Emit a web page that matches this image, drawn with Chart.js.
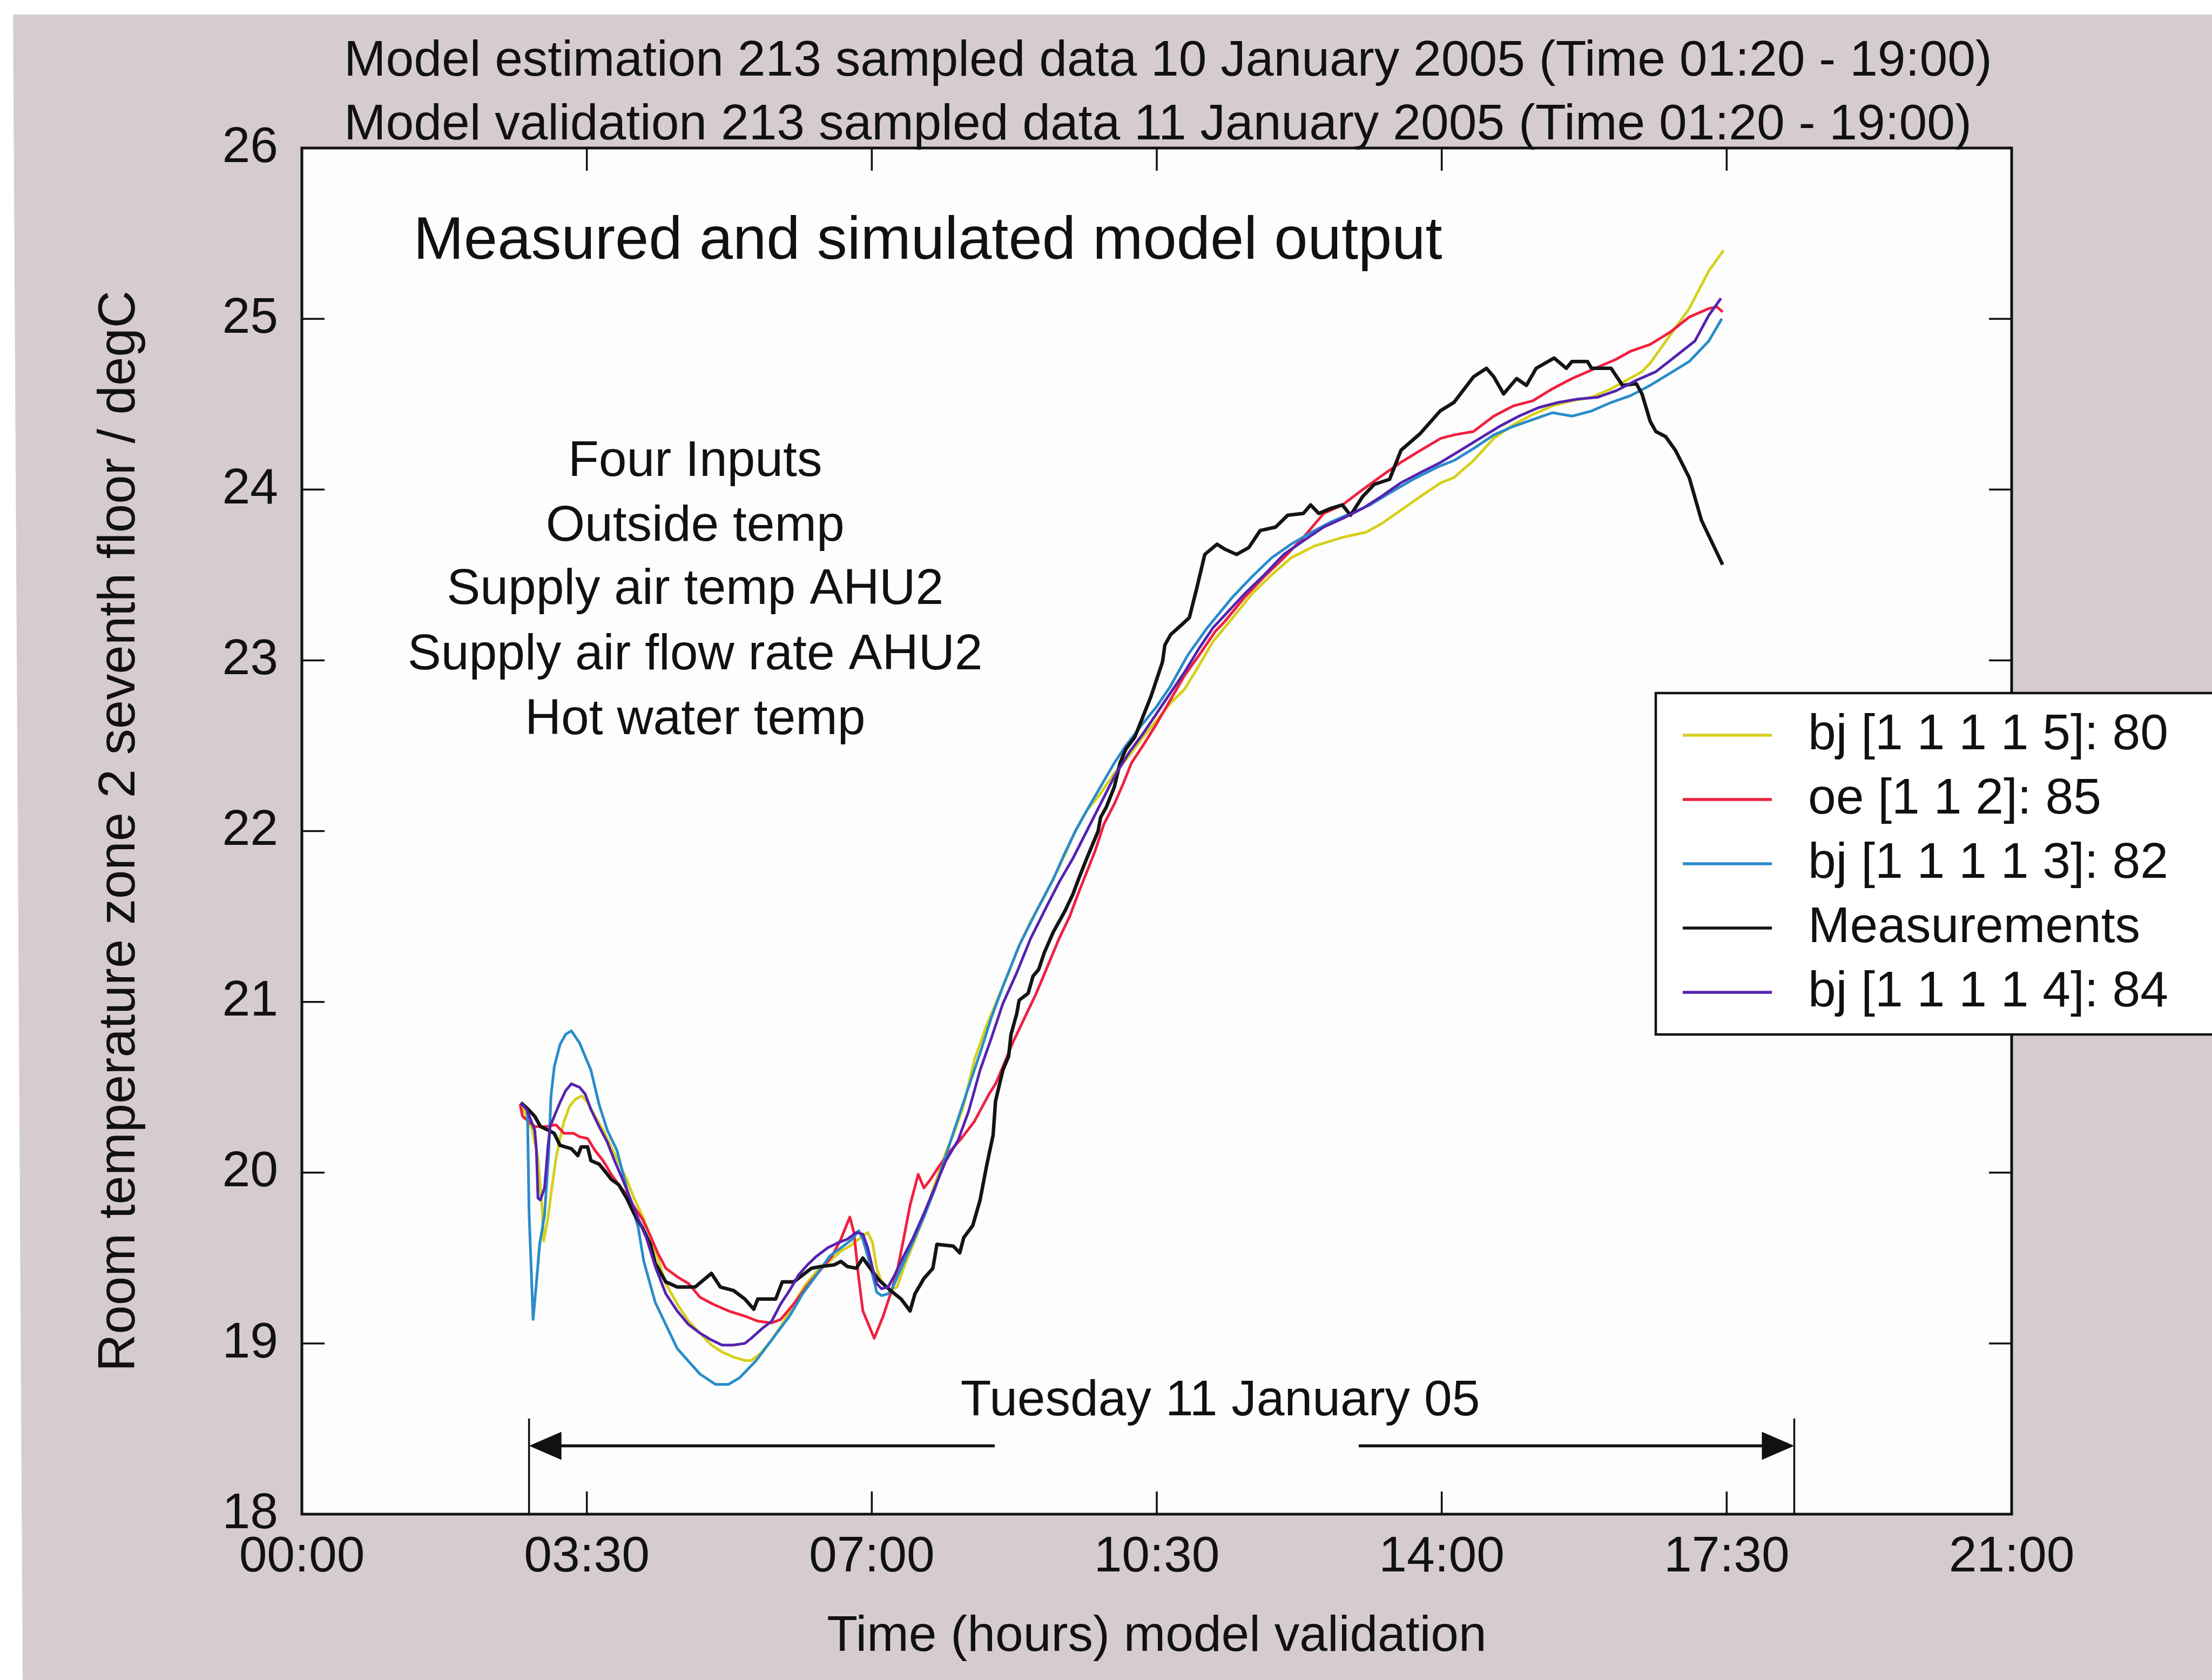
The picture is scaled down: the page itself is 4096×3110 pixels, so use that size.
<!DOCTYPE html>
<html>
<head>
<meta charset="utf-8">
<title>Measured and simulated model output</title>
<script src="https://cdn.jsdelivr.net/npm/chart.js@4.4.1/dist/chart.umd.min.js"></script>
<style>
    html, body { margin: 0; padding: 0; background: #d6cccd; }
    canvas { display: block; }
</style>
</head>
<body>
<canvas id="model-chart" width="4096" height="3110"></canvas>
<script>
// Room temperature zone 2, seventh floor - model validation, 11 January 2005

const FONT = '"Liberation Sans", Arial, Helvetica, sans-serif';
const TEXT_SIZE = 93;

// Axis ticks (hours / degC)
const timeTicks = [0, 3.5, 7, 10.5, 14, 17.5, 21];
const tempTicks = [18, 19, 20, 21, 22, 23, 24, 25, 26];

// Legend labels, in plotting order
const seriesLabels = ['bj [1 1 1 1 5]: 80', 'oe [1 1 2]: 85', 'bj [1 1 1 1 3]: 82', 'Measurements', 'bj [1 1 1 1 4]: 84'];

// bj [1 1 1 1 5]
const bj5Hours = [2.69, 2.76, 2.83, 2.90, 2.95, 2.97, 3.02, 3.07, 3.12, 3.17, 3.22, 3.29, 3.36, 3.44, 3.51, 3.60, 3.70, 3.80, 3.89, 3.99,
    4.08, 4.18, 4.28, 4.37, 4.47, 4.61, 4.75, 4.89, 5.03, 5.16, 5.30, 5.44, 5.52, 5.63, 5.77, 5.91, 6.04, 6.18, 6.32, 6.48,
    6.62, 6.73, 6.81, 6.95, 7.01, 7.06, 7.12, 7.23, 7.31, 7.39, 7.50, 7.64, 7.78, 7.91, 8.00, 8.12, 8.26, 8.40, 8.54, 8.68,
    8.81, 8.95, 9.09, 9.23, 9.37, 9.50, 9.64, 9.81, 9.98, 10.16, 10.33, 10.50, 10.67, 10.84, 11.02, 11.19, 11.40, 11.67, 11.91, 12.15,
    12.44, 12.78, 13.07, 13.26, 13.50, 13.74, 13.99, 14.15, 14.39, 14.64, 14.88, 15.12, 15.36, 15.60, 15.84, 16.08, 16.27, 16.46, 16.56, 16.68,
    16.80, 16.92, 17.04, 17.16, 17.28, 17.46];
const bj5Temp = [20.40, 20.33, 20.25, 20.08, 19.79, 19.60, 19.73, 19.91, 20.08, 20.20, 20.30, 20.39, 20.43, 20.45, 20.41, 20.33, 20.25, 20.15, 20.06, 19.96,
    19.85, 19.75, 19.63, 19.50, 19.35, 19.23, 19.13, 19.06, 18.99, 18.95, 18.92, 18.90, 18.90, 18.94, 19.02, 19.12, 19.23, 19.34, 19.42, 19.48,
    19.54, 19.57, 19.60, 19.65, 19.59, 19.44, 19.36, 19.31, 19.33, 19.44, 19.57, 19.74, 19.94, 20.12, 20.22, 20.38, 20.66, 20.85, 21.01, 21.17,
    21.33, 21.47, 21.59, 21.72, 21.86, 22.00, 22.12, 22.22, 22.34, 22.44, 22.55, 22.65, 22.75, 22.83, 22.97, 23.11, 23.23, 23.39, 23.50, 23.60,
    23.67, 23.72, 23.75, 23.80, 23.88, 23.96, 24.04, 24.07, 24.17, 24.30, 24.38, 24.44, 24.49, 24.52, 24.54, 24.59, 24.64, 24.69, 24.74, 24.82,
    24.90, 24.98, 25.06, 25.17, 25.28, 25.40];

// oe [1 1 2]
const oeHours = [2.68, 2.71, 2.76, 2.86, 3.00, 3.12, 3.22, 3.34, 3.41, 3.51, 3.60, 3.70, 3.80, 3.89, 3.99, 4.08, 4.18, 4.28, 4.37, 4.47,
    4.61, 4.75, 4.89, 5.05, 5.24, 5.44, 5.60, 5.77, 5.88, 6.04, 6.21, 6.37, 6.51, 6.62, 6.73, 6.78, 6.84, 6.89, 7.03, 7.14,
    7.23, 7.31, 7.39, 7.47, 7.57, 7.64, 7.72, 7.83, 7.97, 8.10, 8.26, 8.44, 8.52, 8.61, 8.74, 8.88, 9.02, 9.16, 9.30, 9.43,
    9.54, 9.64, 9.74, 9.85, 9.98, 10.09, 10.19, 10.33, 10.50, 10.67, 10.84, 11.02, 11.22, 11.34, 11.58, 11.82, 12.06, 12.30, 12.55, 12.78,
    13.03, 13.26, 13.50, 13.74, 13.99, 14.15, 14.39, 14.64, 14.88, 15.12, 15.36, 15.60, 15.84, 15.98, 16.13, 16.32, 16.56, 16.80, 17.04, 17.28,
    17.38, 17.45];
const oeTemp = [20.40, 20.33, 20.31, 20.27, 20.27, 20.28, 20.23, 20.23, 20.21, 20.20, 20.13, 20.07, 19.99, 19.93, 19.87, 19.80, 19.73, 19.63, 19.53, 19.44,
    19.39, 19.35, 19.27, 19.23, 19.19, 19.16, 19.13, 19.12, 19.14, 19.23, 19.34, 19.43, 19.51, 19.61, 19.74, 19.65, 19.38, 19.19, 19.03, 19.16,
    19.29, 19.42, 19.61, 19.81, 19.99, 19.91, 19.96, 20.04, 20.13, 20.20, 20.30, 20.46, 20.52, 20.62, 20.77, 20.91, 21.05, 21.21, 21.37, 21.50,
    21.64, 21.76, 21.88, 22.04, 22.16, 22.28, 22.40, 22.50, 22.63, 22.77, 22.91, 23.03, 23.17, 23.23, 23.37, 23.49, 23.60, 23.72, 23.86, 23.91,
    24.00, 24.08, 24.16, 24.23, 24.30, 24.32, 24.34, 24.43, 24.49, 24.52, 24.59, 24.65, 24.70, 24.73, 24.76, 24.81, 24.85, 24.92, 25.01, 25.06,
    25.07, 25.04];

// bj [1 1 1 1 3]
const bj3Hours = [2.69, 2.77, 2.79, 2.84, 2.88, 2.92, 2.98, 3.03, 3.06, 3.10, 3.17, 3.24, 3.31, 3.41, 3.55, 3.65, 3.75, 3.87, 3.99, 4.13,
    4.20, 4.34, 4.61, 4.89, 5.08, 5.24, 5.38, 5.58, 5.77, 5.99, 6.15, 6.32, 6.48, 6.65, 6.76, 6.84, 6.89, 6.95, 7.01, 7.06,
    7.12, 7.20, 7.25, 7.36, 7.50, 7.64, 7.78, 7.91, 8.02, 8.16, 8.33, 8.47, 8.61, 8.81, 9.02, 9.23, 9.36, 9.50, 9.64, 9.81,
    9.98, 10.12, 10.33, 10.50, 10.67, 10.88, 11.12, 11.43, 11.67, 11.91, 12.15, 12.40, 12.64, 12.88, 13.12, 13.36, 13.65, 13.94, 14.15, 14.39,
    14.64, 14.88, 15.12, 15.36, 15.60, 15.84, 16.08, 16.32, 16.56, 16.80, 17.04, 17.28, 17.44];
const bj3Temp = [20.40, 20.38, 19.77, 19.14, 19.35, 19.58, 19.75, 20.10, 20.45, 20.62, 20.75, 20.81, 20.83, 20.76, 20.60, 20.40, 20.25, 20.13, 19.91, 19.68,
    19.48, 19.24, 18.97, 18.82, 18.76, 18.76, 18.80, 18.90, 19.02, 19.16, 19.29, 19.40, 19.51, 19.57, 19.61, 19.66, 19.61, 19.51, 19.40, 19.30,
    19.28, 19.29, 19.32, 19.44, 19.59, 19.74, 19.91, 20.10, 20.26, 20.46, 20.70, 20.91, 21.09, 21.33, 21.53, 21.72, 21.86, 22.00, 22.12, 22.26,
    22.40, 22.50, 22.63, 22.73, 22.85, 23.03, 23.19, 23.37, 23.49, 23.60, 23.68, 23.75, 23.81, 23.86, 23.91, 23.98, 24.06, 24.13, 24.17, 24.24,
    24.32, 24.37, 24.41, 24.45, 24.43, 24.46, 24.51, 24.55, 24.61, 24.68, 24.75, 24.87, 25.00];

// Measured room temperature
const measHours = [2.69, 2.78, 2.86, 2.93, 3.02, 3.10, 3.17, 3.24, 3.31, 3.39, 3.43, 3.51, 3.55, 3.65, 3.72, 3.80, 3.89, 3.99, 4.08, 4.18,
    4.28, 4.34, 4.47, 4.61, 4.83, 5.03, 5.14, 5.30, 5.44, 5.55, 5.60, 5.82, 5.90, 6.04, 6.15, 6.26, 6.37, 6.54, 6.62, 6.70,
    6.81, 6.89, 6.98, 7.09, 7.23, 7.36, 7.47, 7.53, 7.64, 7.75, 7.80, 8.00, 8.08, 8.13, 8.24, 8.33, 8.41, 8.49, 8.52, 8.61,
    8.68, 8.71, 8.78, 8.81, 8.92, 8.98, 9.05, 9.12, 9.23, 9.30, 9.37, 9.47, 9.54, 9.64, 9.71, 9.78, 9.81, 9.88, 9.98, 10.05,
    10.12, 10.23, 10.33, 10.43, 10.50, 10.57, 10.60, 10.67, 10.81, 10.90, 10.99, 11.09, 11.24, 11.34, 11.48, 11.63, 11.77, 11.96, 12.11, 12.30,
    12.39, 12.49, 12.64, 12.78, 12.88, 13.03, 13.17, 13.36, 13.50, 13.74, 13.98, 14.15, 14.39, 14.55, 14.64, 14.76, 14.92, 15.04, 15.16, 15.38,
    15.53, 15.60, 15.79, 15.84, 16.08, 16.22, 16.39, 16.46, 16.56, 16.63, 16.75, 16.87, 17.04, 17.19, 17.28, 17.45];
const measTemp = [20.41, 20.37, 20.33, 20.27, 20.25, 20.23, 20.16, 20.15, 20.14, 20.10, 20.15, 20.15, 20.07, 20.05, 20.01, 19.96, 19.93, 19.85, 19.76, 19.68,
    19.58, 19.47, 19.36, 19.33, 19.33, 19.41, 19.33, 19.31, 19.26, 19.20, 19.26, 19.26, 19.36, 19.36, 19.40, 19.44, 19.45, 19.46, 19.48, 19.45,
    19.44, 19.50, 19.44, 19.37, 19.31, 19.26, 19.19, 19.29, 19.38, 19.44, 19.58, 19.57, 19.53, 19.62, 19.69, 19.84, 20.04, 20.22, 20.42, 20.60,
    20.68, 20.81, 20.93, 21.01, 21.05, 21.15, 21.19, 21.29, 21.41, 21.47, 21.53, 21.63, 21.72, 21.84, 21.92, 22.00, 22.08, 22.14, 22.26, 22.40,
    22.48, 22.55, 22.67, 22.79, 22.89, 22.99, 23.09, 23.15, 23.21, 23.25, 23.42, 23.62, 23.68, 23.65, 23.62, 23.66, 23.76, 23.78, 23.85, 23.86,
    23.91, 23.86, 23.89, 23.91, 23.85, 23.96, 24.03, 24.06, 24.23, 24.33, 24.46, 24.51, 24.66, 24.71, 24.66, 24.56, 24.65, 24.61, 24.71, 24.77,
    24.71, 24.75, 24.75, 24.71, 24.71, 24.61, 24.62, 24.56, 24.40, 24.34, 24.31, 24.23, 24.07, 23.82, 23.73, 23.56];

// bj [1 1 1 1 4]
const bj4Hours = [2.69, 2.76, 2.86, 2.88, 2.90, 2.93, 2.98, 3.00, 3.02, 3.05, 3.10, 3.17, 3.24, 3.31, 3.41, 3.48, 3.55, 3.65, 3.75, 3.84,
    3.94, 4.04, 4.13, 4.23, 4.34, 4.47, 4.61, 4.75, 4.89, 5.03, 5.16, 5.30, 5.44, 5.52, 5.66, 5.77, 5.88, 5.99, 6.10, 6.21,
    6.32, 6.46, 6.59, 6.70, 6.81, 6.89, 6.95, 7.01, 7.06, 7.12, 7.20, 7.28, 7.39, 7.50, 7.64, 7.78, 7.91, 8.06, 8.19, 8.33,
    8.47, 8.61, 8.78, 8.95, 9.16, 9.30, 9.47, 9.64, 9.81, 9.98, 10.16, 10.33, 10.50, 10.67, 10.84, 11.02, 11.19, 11.58, 11.82, 12.06,
    12.30, 12.55, 12.78, 13.03, 13.26, 13.50, 13.74, 13.99, 14.23, 14.47, 14.71, 14.95, 15.19, 15.43, 15.67, 15.91, 16.15, 16.39, 16.63, 16.87,
    17.11, 17.28, 17.43];
const bj4Temp = [20.41, 20.37, 20.25, 20.14, 19.85, 19.84, 19.91, 20.02, 20.14, 20.27, 20.33, 20.41, 20.48, 20.52, 20.50, 20.46, 20.37, 20.27, 20.18, 20.07,
    19.96, 19.84, 19.73, 19.62, 19.45, 19.29, 19.19, 19.11, 19.06, 19.02, 18.99, 18.99, 19.00, 19.03, 19.09, 19.13, 19.23, 19.31, 19.40, 19.46,
    19.51, 19.56, 19.59, 19.61, 19.65, 19.64, 19.56, 19.44, 19.35, 19.32, 19.33, 19.40, 19.51, 19.61, 19.76, 19.92, 20.07, 20.19, 20.36, 20.60,
    20.79, 20.99, 21.17, 21.37, 21.57, 21.70, 21.84, 22.00, 22.16, 22.32, 22.46, 22.57, 22.69, 22.81, 22.93, 23.07, 23.19, 23.39, 23.50, 23.62,
    23.70, 23.78, 23.83, 23.89, 23.96, 24.04, 24.10, 24.16, 24.23, 24.30, 24.37, 24.43, 24.48, 24.51, 24.53, 24.54, 24.58, 24.64, 24.69, 24.78,
    24.87, 25.02, 25.12];

// Build a line dataset from an hours/temperature pair
function series(label, hours, temps, color, width, order) {
    return {
        label: label,
        data: hours.map((h, i) => ({ x: h, y: temps[i] })),
        borderColor: color,
        borderWidth: width,
        pointRadius: 0,
        tension: 0,
        fill: false,
        borderJoinStyle: 'round',
        order: order
    };
}

const datasets = [
    series(seriesLabels[0], bj5Hours, bj5Temp, '#d6d01c', 5, 5),
    series(seriesLabels[1], oeHours, oeTemp, '#f0203f', 5, 4),
    series(seriesLabels[2], bj3Hours, bj3Temp, '#2a8cca', 5, 3),
    series(seriesLabels[3], measHours, measTemp, '#141414', 6.5, 2),
    series(seriesLabels[4], bj4Hours, bj4Temp, '#5423b0', 5, 1)
];

function hhmm(v) {
    const h = Math.floor(v);
    const m = Math.round((v - h) * 60);
    return String(h).padStart(2, '0') + ':' + String(m).padStart(2, '0');
}

function drawText(ctx, str, x, y, size, align) {
    ctx.font = size + 'px ' + FONT;
    ctx.textAlign = align;
    ctx.textBaseline = 'middle';
    ctx.fillText(str, x, y);
}

// Paper background, white plot box, and the MATLAB-style frame with inward ticks
const framePlugin = {
    id: 'frame',
    beforeDraw(chart) {
        const { ctx, chartArea: a, width, height } = chart;
        ctx.save();
        ctx.fillStyle = '#d6cccd';
        ctx.fillRect(0, 0, width, height);
        ctx.fillStyle = '#ffffff';
        ctx.fillRect(0, 0, width, 27);
        ctx.beginPath();
        ctx.moveTo(0, 0);
        ctx.lineTo(24, 0);
        ctx.lineTo(42, height);
        ctx.lineTo(0, height);
        ctx.closePath();
        ctx.fill();
        ctx.fillStyle = '#fdfdfe';
        ctx.fillRect(a.left, a.top, a.right - a.left, a.bottom - a.top);
        ctx.restore();
    },
    afterDatasetsDraw(chart) {
        const { ctx, chartArea: a, scales: { x, y } } = chart;
        const tick = 42;
        ctx.save();
        ctx.strokeStyle = '#111';
        ctx.lineWidth = 3.5;
        ctx.beginPath();
        timeTicks.forEach(v => {
            const px = x.getPixelForValue(v);
            ctx.moveTo(px, a.bottom); ctx.lineTo(px, a.bottom - tick);
            ctx.moveTo(px, a.top); ctx.lineTo(px, a.top + tick);
        });
        tempTicks.forEach(v => {
            const py = y.getPixelForValue(v);
            ctx.moveTo(a.left, py); ctx.lineTo(a.left + tick, py);
            ctx.moveTo(a.right, py); ctx.lineTo(a.right - tick, py);
        });
        ctx.stroke();
        ctx.lineWidth = 5;
        ctx.strokeRect(a.left, a.top, a.right - a.left, a.bottom - a.top);
        ctx.restore();
    }
};

// Titles, notes, the day-span arrows and the legend box
const notesPlugin = {
    id: 'notes',
    afterDraw(chart) {
        const { ctx, chartArea: a, scales: { x, y } } = chart;
        ctx.save();
        ctx.fillStyle = '#111';

        drawText(ctx, 'Model estimation 213 sampled data 10 January 2005 (Time 01:20 - 19:00)', a.left + 78, a.top - 160, TEXT_SIZE, 'left');
        drawText(ctx, 'Model validation 213 sampled data 11 January 2005 (Time 01:20 - 19:00)', a.left + 78, a.top - 42, TEXT_SIZE, 'left');

        drawText(ctx, 'Measured and simulated model output', x.getPixelForValue(1.37), y.getPixelForValue(25.45), 112, 'left');

        const inputs = ['Four Inputs', 'Outside temp', 'Supply air temp AHU2', 'Supply air flow rate AHU2', 'Hot water temp'];
        const inputRows = [24.16, 23.78, 23.41, 23.03, 22.65];
        inputs.forEach((t, i) => drawText(ctx, t, x.getPixelForValue(4.83), y.getPixelForValue(inputRows[i]), TEXT_SIZE, 'center'));

        drawText(ctx, 'Tuesday 11 January 05', x.getPixelForValue(11.28), y.getPixelForValue(18.66), TEXT_SIZE, 'center');

        // Day span arrows
        const x0 = x.getPixelForValue(2.79), x1 = x.getPixelForValue(18.33);
        const yb = y.getPixelForValue(18), yt = y.getPixelForValue(18.56), ya = y.getPixelForValue(18.40);
        ctx.strokeStyle = '#111';
        ctx.lineWidth = 3.5;
        ctx.beginPath();
        ctx.moveTo(x0, yb); ctx.lineTo(x0, yt);
        ctx.moveTo(x1, yb); ctx.lineTo(x1, yt);
        ctx.stroke();
        ctx.lineWidth = 5.5;
        ctx.beginPath();
        ctx.moveTo(x0 + 40, ya); ctx.lineTo(x.getPixelForValue(8.51), ya);
        ctx.moveTo(x.getPixelForValue(12.98), ya); ctx.lineTo(x1 - 40, ya);
        ctx.stroke();
        ctx.beginPath();
        ctx.moveTo(x0, ya); ctx.lineTo(x0 + 60, ya - 26); ctx.lineTo(x0 + 60, ya + 26); ctx.closePath();
        ctx.moveTo(x1, ya); ctx.lineTo(x1 - 60, ya - 26); ctx.lineTo(x1 - 60, ya + 26); ctx.closePath();
        ctx.fill();

        // Legend
        const box = { left: 3066, top: 1283, bottom: 1915 };
        ctx.fillStyle = '#ffffff';
        ctx.fillRect(box.left, box.top, chart.width - box.left + 20, box.bottom - box.top);
        ctx.strokeStyle = '#111';
        ctx.lineWidth = 4.5;
        ctx.strokeRect(box.left, box.top, chart.width - box.left + 20, box.bottom - box.top);
        chart.data.datasets.forEach((ds, i) => {
            const cy = box.top + 78 + i * 119;
            ctx.strokeStyle = ds.borderColor;
            ctx.lineWidth = 5.5;
            ctx.beginPath();
            ctx.moveTo(box.left + 50, cy);
            ctx.lineTo(box.left + 215, cy);
            ctx.stroke();
            ctx.fillStyle = '#111';
            drawText(ctx, ds.label, box.left + 282, cy, TEXT_SIZE, 'left');
        });
        ctx.restore();
    }
};

Chart.defaults.font.family = FONT;
Chart.defaults.color = '#111';

const ctx = document.getElementById('model-chart').getContext('2d');
const modelChart = new Chart(ctx, {
    type: 'line',
    data: { datasets: datasets },
    options: {
        responsive: false,
        animation: false,
        devicePixelRatio: 1,
        layout: { padding: { left: 0, top: 274, right: 371, bottom: 0 } },
        plugins: {
            legend: { display: false },
            tooltip: { enabled: false }
        },
        scales: {
            x: {
                type: 'linear',
                min: 0,
                max: 21,
                afterBuildTicks: scale => { scale.ticks = timeTicks.map(v => ({ value: v })); },
                afterFit: scale => { scale.height = 307; },
                grid: { display: false, drawTicks: false },
                border: { display: false },
                ticks: {
                    padding: 25,
                    autoSkip: false,
                    maxRotation: 0,
                    font: { size: TEXT_SIZE },
                    color: '#111',
                    callback: value => hhmm(value)
                },
                title: {
                    display: true,
                    text: 'Time (hours) model validation',
                    font: { size: TEXT_SIZE },
                    color: '#111',
                    padding: { top: 0, bottom: 24 }
                }
            },
            y: {
                type: 'linear',
                min: 18,
                max: 26,
                afterBuildTicks: scale => { scale.ticks = tempTicks.map(v => ({ value: v })); },
                afterFit: scale => { scale.width = 559; },
                grid: { display: false, drawTicks: false },
                border: { display: false },
                ticks: {
                    padding: 44,
                    font: { size: TEXT_SIZE },
                    color: '#111'
                },
                title: {
                    display: true,
                    text: 'Room temperature zone 2 seventh floor / degC',
                    font: { size: 96 },
                    color: '#111',
                    padding: { top: 165, bottom: 0 }
                }
            }
        }
    },
    plugins: [framePlugin, notesPlugin]
});
</script>
</body>
</html>
